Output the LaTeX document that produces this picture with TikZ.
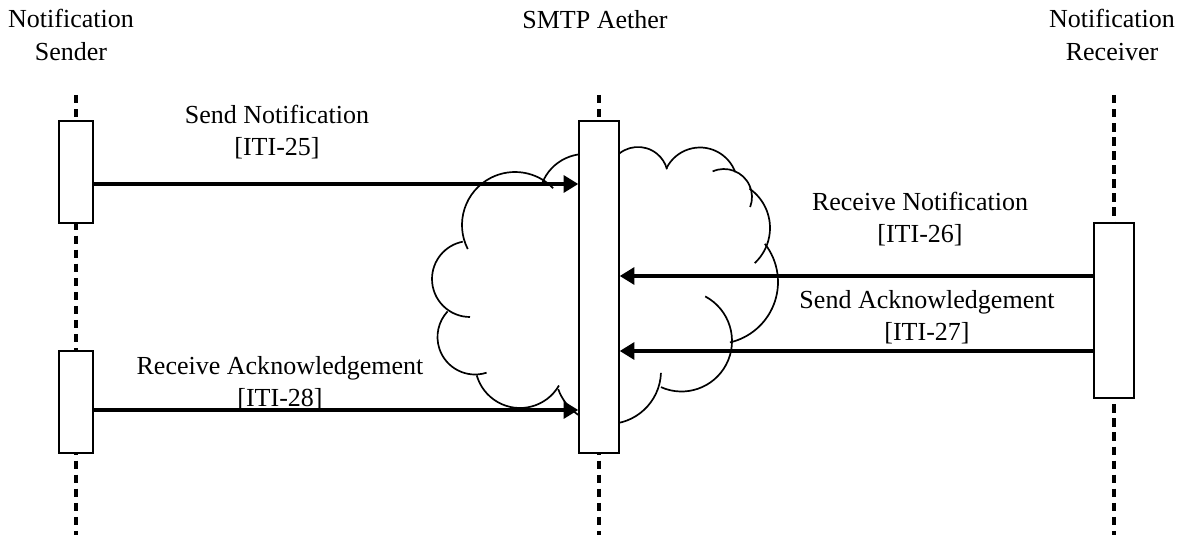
\documentclass[tikz,border=0pt]{standalone}
\usepackage{fontspec}
\setmainfont{Liberation Serif}
\usetikzlibrary{arrows.meta}
\begin{document}
\begin{tikzpicture}[x=0.025cm, y=-0.025cm,
  lbl/.style={font=\fontsize{18.5}{22.8}\selectfont, align=center, inner sep=0pt},
  life/.style={draw=black, line width=2.5pt, dash pattern=on 6pt off 4pt},
  act/.style={rectangle, draw=black, line width=1.4pt, fill=white, inner sep=0pt, minimum width=24pt},
  actw/.style={act, minimum width=28pt},
  msg/.style={draw=black, line width=2.8pt, -{Triangle[length=10.5pt, width=12pt]}},
  puff/.style={draw=black, line width=1.2pt}]
\useasboundingbox (0,0) rectangle (1182,537);
% y runs downwards here, so every position below is read from the top left corner
\node[lbl] (snd) at (71,35) {Notification\\Sender};
\node[lbl] (aet) at (595,20) {SMTP Aether};
\node[lbl] (rcv) at (1112,35) {Notification\\Receiver};
\coordinate (sndT) at (76,95);   \coordinate (sndB) at (76,535);
\coordinate (aetT) at (599,95);  \coordinate (aetB) at (599,535);
\coordinate (rcvT) at (1114,95); \coordinate (rcvB) at (1114,535);
\draw[life] (sndT) -- (sndB);
\draw[life] (aetT) -- (aetB);
\draw[life] (rcvT) -- (rcvB);
% The cloud is a ring of circular puffs (centre x / centre y / radius / from / to).
% Each arc runs a little past the next one so the ends show as short hooks;
% the part behind the middle bar is covered by its white fill.
\foreach \cx/\cy/\r/\a/\b in {638/177/30/-140/-15, 700/185/37.5/-153/-20,
    724/197/28/-114/21, 722/228/48/-55/47, 716/282/62/-38/77,
    681.5/341/50.5/-62/114, 608/371/53/2/160, 520/363/45/30/164,
    475/337/37.5/72/223, 470/279/38/90/259, 515/225/53/153/316,
    585/200/46/200/290}
  \draw[puff] ({\cx+\r*cos(\a)},{\cy+\r*sin(\a)}) arc[start angle=\a, end angle=\b, radius=\r];
\node[act, minimum height=72.5pt] (snd1) at (76,172) {};
\node[act, minimum height=72.5pt] (snd2) at (76,402) {};
\node[actw, minimum height=236pt] (hub) at (599,287) {};
\node[actw, minimum height=124.5pt] (rcv1) at (1114,310.5) {};
\draw[msg] (snd1.east |- 0,184) -- (hub.west |- 0,184);
\draw[msg] (rcv1.west |- 0,276) -- (hub.east |- 0,276);
\draw[msg] (rcv1.west |- 0,351) -- (hub.east |- 0,351);
\draw[msg] (snd2.east |- 0,410) -- (hub.west |- 0,410);
\node[lbl] at (277,132.5) {Send Notification\\{}[ITI-25]};
\node[lbl] at (920,219.5) {Receive Notification\\{}[ITI-26]};
\node[lbl] at (927,317.5) {Send Acknowledgement\\{}[ITI-27]};
\node[lbl] at (280,383.5) {Receive Acknowledgement\\{}[ITI-28]};
\end{tikzpicture}
\end{document}
